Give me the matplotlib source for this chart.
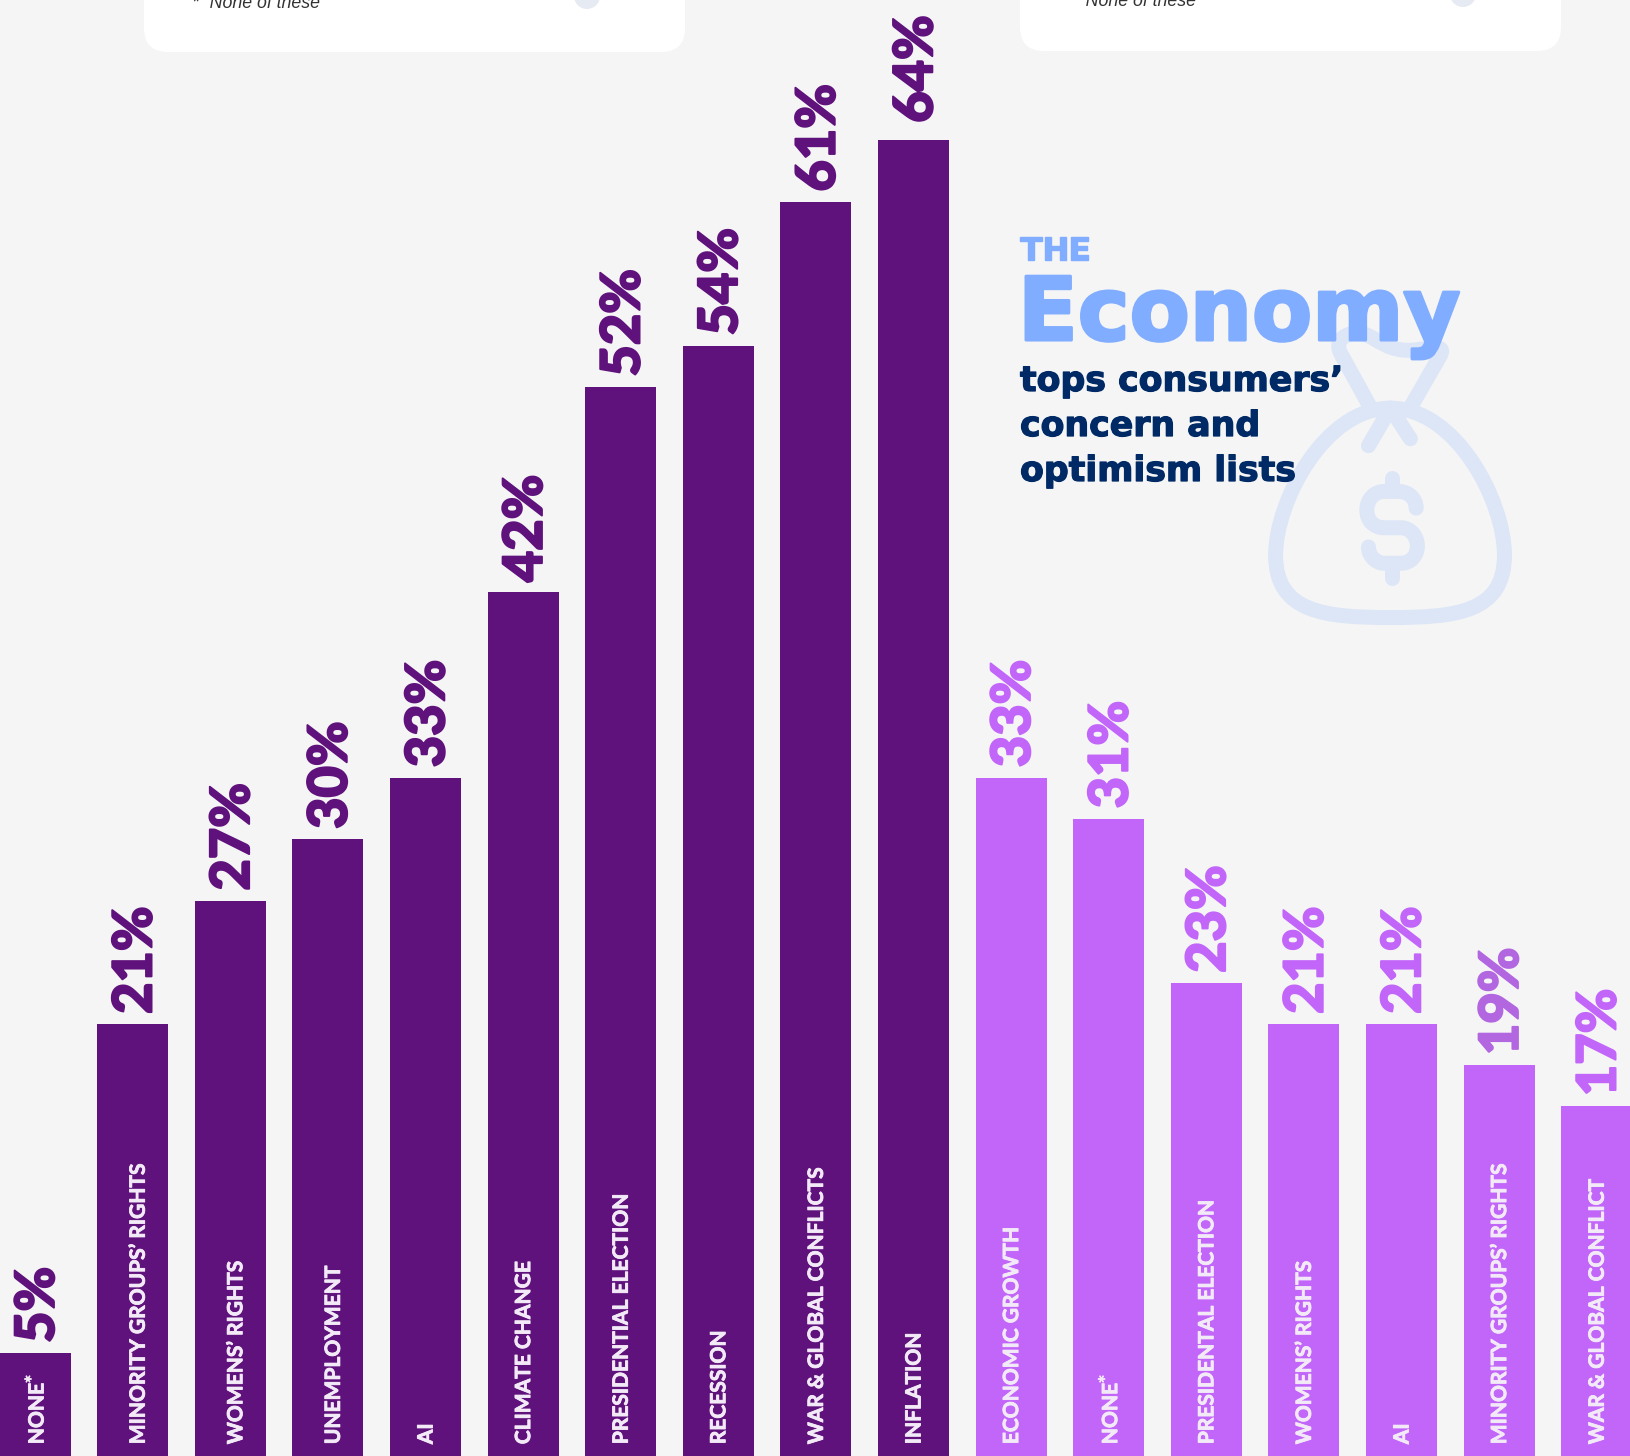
import numpy as np
import matplotlib.pyplot as plt
import matplotlib.patheffects as pe
from matplotlib.patches import FancyBboxPatch, Circle, PathPatch
from matplotlib.path import Path

FONT = 'Lato'
TITLE_FONT = 'DejaVu Sans'

# 关注项（深紫）和乐观项（浅紫）
concern_labels = ['NONE$^{*}$', 'MINORITY GROUPS’ RIGHTS', 'WOMENS’ RIGHTS', 'UNEMPLOYMENT', 'AI',
                  'CLIMATE CHANGE', 'PRESIDENTIAL ELECTION', 'RECESSION', 'WAR & GLOBAL CONFLICTS', 'INFLATION']
concern_values = [5, 21, 27, 30, 33, 42, 52, 54, 61, 64]
optimism_labels = ['ECONOMIC GROWTH', 'NONE$^{*}$', 'PRESIDENTAL ELECTION', 'WOMENS’ RIGHTS', 'AI',
                   'MINORITY GROUPS’ RIGHTS', 'WAR & GLOBAL CONFLICT']
optimism_values = [33, 31, 23, 21, 21, 19, 17]

DARK = '#5F117C'
LIGHT = '#C266FA'
BG = '#F5F5F5'
BAG = '#DDE6F7'
W, H = 1630, 1456
PITCH = 97.6
FIRST = 35.1   # 第一根柱子中心的像素位置
UNIT = 20.56   # 每个百分点的像素高度

fig = plt.figure(figsize=(W / 100, H / 100), dpi=100, facecolor=BG)

# 背景层，用像素坐标画卡片、钱袋和标题
bg = fig.add_axes([0, 0, 1, 1], zorder=0)
bg.set_xlim(0, W)
bg.set_ylim(H, 0)
bg.axis('off')

for x0, bottom in ((144, 52), (1020, 51)):
    bg.add_patch(FancyBboxPatch((x0 + 24, -80), 541 - 48, bottom + 80 - 24,
                                boxstyle='round,pad=24', fc='white', ec='none'))
bg.add_patch(Circle((587, -4), 13, fc='#E6EAF3', ec='none'))
bg.add_patch(Circle((1463, -6), 13, fc='#E6EAF3', ec='none'))
bg.text(192, 4, '* “None of these”', fontsize=12.8, style='italic', color='#333333',
        family='Liberation Sans', ha='left', va='center')
bg.text(1068, 2, '* “None of these”', fontsize=12.8, style='italic', color='#333333',
        family='Liberation Sans', ha='left', va='center')


def stroke(points, codes):
    pts = np.array(points, dtype=float)
    pts[:, 0] = 980 + pts[:, 0] / 2.412
    pts[:, 1] = pts[:, 1] / 2.45
    bg.add_patch(PathPatch(Path(pts, codes), fc='none', ec=BAG, lw=15 * 0.72,
                           capstyle='round', joinstyle='round'))


M, L, C = Path.MOVETO, Path.LINETO, Path.CURVE4
# 袋身
stroke([(990, 1000), (830, 1000), (713, 1230), (713, 1360),
        (713, 1500), (830, 1513), (990, 1513),
        (1150, 1513), (1265, 1500), (1265, 1360),
        (1265, 1230), (1150, 1000), (990, 1000)],
       [M, C, C, C, C, C, C, C, C, C, C, C, C])
# 袋口
stroke([(940, 995), (875, 875), (845, 830), (890, 810), (925, 818),
        (960, 828), (985, 868), (1060, 856), (1100, 852), (1125, 845), (1108, 875), (1040, 995)],
       [M, L, C, C, C, C, C, C, C, C, C, L])
# 绳结
stroke([(937, 1092), (990, 1000), (1038, 1075)], [M, L, L])
# 美元符号
stroke([(994, 1172), (994, 1200)], [M, L])
stroke([(994, 1385), (994, 1415)], [M, L])
stroke([(1052, 1245), (1052, 1220), (1032, 1204), (1010, 1204), (975, 1204),
        (950, 1204), (933, 1225), (933, 1250), (933, 1275), (950, 1293), (975, 1293),
        (1015, 1293), (1038, 1293), (1055, 1313), (1055, 1338), (1055, 1362), (1038, 1380), (1015, 1380),
        (975, 1380), (955, 1380), (937, 1362), (937, 1340)],
       [M, C, C, C, L, C, C, C, C, C, C, L, C, C, C, C, C, C, L, C, C, C])

blue = '#80ADFF'
bg.text(1020, 260, 'THE', fontsize=23, weight='bold', color=blue, family=TITLE_FONT, va='baseline',
        path_effects=[pe.withStroke(linewidth=1.0, foreground=blue)])
bg.text(1018, 340, 'Economy', fontsize=63, weight='bold', color=blue, family=TITLE_FONT, va='baseline',
        path_effects=[pe.withStroke(linewidth=2.2, foreground=blue)])
for y, line in zip((391, 436, 481), ('tops consumers’', 'concern and', 'optimism lists')):
    bg.text(1020, y, line, fontsize=25, weight='bold', color='#002A66', family=TITLE_FONT, va='baseline',
            path_effects=[pe.withStroke(linewidth=0.9, foreground='#002A66')])

# 柱状图层
ax = fig.add_axes([0, 0, 1, 1], zorder=1)
ax.patch.set_alpha(0)
ax.set_xlim(-FIRST / PITCH, (W - FIRST) / PITCH)
ax.set_ylim(0, H / UNIT)
ax.axis('off')

labels = concern_labels + optimism_labels
values = concern_values + optimism_values
colors = [DARK] * len(concern_values) + [LIGHT] * len(optimism_values)
shifts = [0, 6, 6, 6, 1, 1, 1, 1, 1, 1, 1, 0, 1, 1, 1, 1, 1]
xs = np.arange(len(values))
ax.bar(xs, values, width=71 / PITCH, color=colors, linewidth=0)

for i, (name, val, col, dx) in enumerate(zip(labels, values, colors, shifts)):
    value_col = '#B266E0' if (col == LIGHT and val == 19) else col
    gap = 12.5 if val == 64 else 7.4
    ax.annotate(f'{val}%', (i, val), xytext=(2.4, gap), textcoords='offset points',
                rotation=90, ha='center', va='bottom', fontsize=39, weight='black',
                color=value_col, family=FONT,
                path_effects=[pe.withStroke(linewidth=1.4, foreground=value_col)])
    ax.annotate(name, (i, 0), xytext=(dx * 0.72, 8.5), textcoords='offset points',
                rotation=90, ha='center', va='bottom', fontsize=15.1, weight='bold',
                color='#F3EAF7', family=FONT,
                path_effects=[pe.withStroke(linewidth=0.6, foreground='#F3EAF7')])

fig.savefig('out.png', dpi=100, facecolor=BG)
